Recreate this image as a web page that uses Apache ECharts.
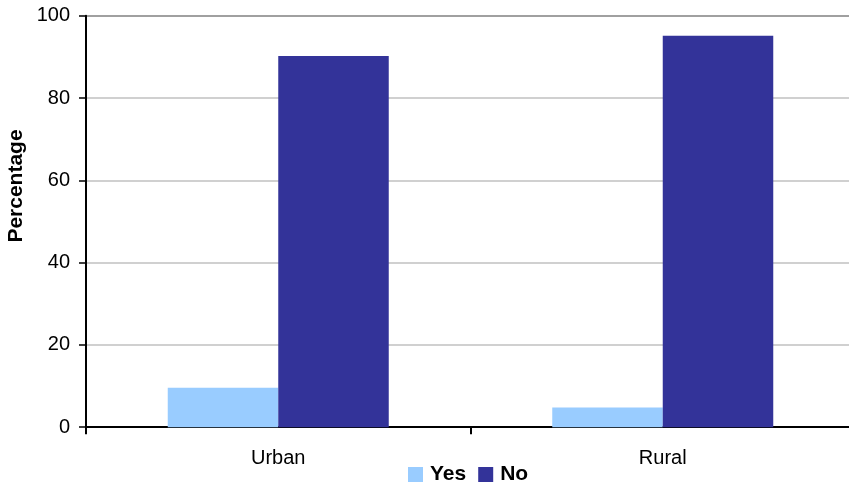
<!DOCTYPE html>
<html>
<head>
<meta charset="utf-8">
<script src="https://cdn.jsdelivr.net/npm/echarts@6/dist/echarts.min.js"></script>
<style>
  html, body { margin: 0; padding: 0; background: #fff; overflow: hidden; }
  #chart { width: 858px; height: 486px; }
</style>
</head>
<body>
<div id="chart"></div>
<script>
// Share of respondents answering Yes / No, by area
const categories = ['Urban', 'Rural'];
const yesValues = [9.6, 4.8];
const noValues = [90.2, 95.1];
const seriesNames = ['Yes', 'No'];
const yTicks = { min: 0, max: 100, interval: 20 };

const chart = echarts.init(document.getElementById('chart'));
const font = 'Liberation Sans, Arial, sans-serif';

chart.setOption({
  animation: false,
  backgroundColor: '#ffffff',
  grid: { left: 86, top: 15.7, width: 769, height: 411.5 },
  legend: {
    data: seriesNames,
    left: 403,
    top: 459,
    itemWidth: 15,
    itemHeight: 15,
    itemGap: 12,
    icon: 'rect',
    textStyle: { fontFamily: font, fontSize: 21, fontWeight: 'bold', color: '#000', padding: [0, 0, 0, 2] }
  },
  graphic: [{
    type: 'text',
    x: 16,
    y: 186,
    rotation: Math.PI / 2,
    style: {
      text: 'Percentage',
      fontFamily: font,
      fontSize: 21,
      fontWeight: 'bold',
      fill: '#000',
      align: 'center',
      verticalAlign: 'middle'
    }
  }],
  xAxis: {
    type: 'category',
    data: categories,
    axisLine: { lineStyle: { color: '#000', width: 2 } },
    axisTick: { show: true, length: 7, lineStyle: { color: '#000', width: 2 } },
    axisLabel: { fontFamily: font, fontSize: 20, color: '#000', margin: 21 },
    splitLine: { show: false }
  },
  yAxis: {
    type: 'value',
    min: yTicks.min,
    max: yTicks.max,
    interval: yTicks.interval,
    axisLine: { show: true, lineStyle: { color: '#000', width: 2 } },
    axisTick: { show: true, length: 7, lineStyle: { color: '#000', width: 1.5 } },
    axisLabel: { fontFamily: font, fontSize: 20, color: '#000', margin: 16 },
    splitLine: {
      show: true,
      lineStyle: {
        color: ['#c0c0c0', '#c0c0c0', '#c0c0c0', '#c0c0c0', '#c0c0c0', '#808080'],
        width: 1.5
      }
    }
  },
  series: [
    {
      name: seriesNames[0],
      type: 'bar',
      data: yesValues,
      barWidth: 110.5,
      barGap: '0%',
      itemStyle: { color: '#99ccff' }
    },
    {
      name: seriesNames[1],
      type: 'bar',
      data: noValues,
      barWidth: 110.5,
      barGap: '0%',
      itemStyle: { color: '#333399' }
    }
  ]
});
</script>
</body>
</html>
